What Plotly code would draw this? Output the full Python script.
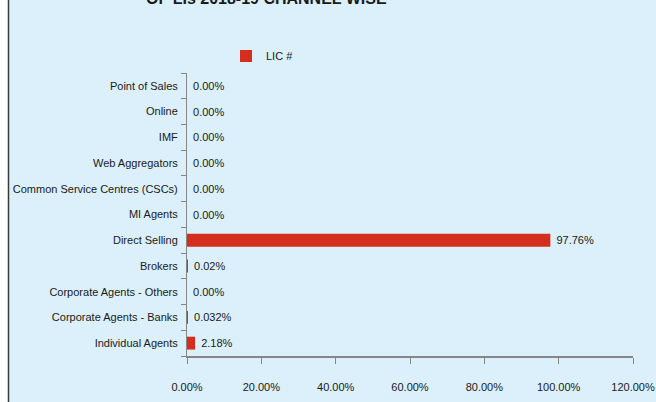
import plotly.graph_objects as go

categories = [
    "Individual Agents",
    "Corporate Agents - Banks",
    "Corporate Agents - Others",
    "Brokers",
    "Direct Selling",
    "MI Agents",
    "Common Service Centres (CSCs)",
    "Web Aggregators",
    "IMF",
    "Online",
    "Point of Sales",
]
values = [2.18, 0.032, 0.00, 0.02, 97.76, 0.00, 0.00, 0.00, 0.00, 0.00, 0.00]
value_labels = ["2.18%", "0.032%", "0.00%", "0.02%", "97.76%", "0.00%",
                "0.00%", "0.00%", "0.00%", "0.00%", "0.00%"]
x_ticks = [0, 20, 40, 60, 80, 100, 120]
x_tick_labels = ["0.00%", "20.00%", "40.00%", "60.00%", "80.00%", "100.00%", "120.00%"]
series_name = "LIC #"
title_text = "OF LIs 2018-19 CHANNEL WISE"

FONT = "Liberation Sans, Arial, sans-serif"
FS = 11
BG = "#DBF0FB"
RED = "#D42E1F"
AXIS = "#868686"
TXT = "#1a1a1a"

L, R, T, B = 187, 23, 73, 46
PW = 656 - L - R
PH = 402 - T - B


def px_x(p):
    return (p - L) / PW


def px_y(p):
    return 1 + (T - p) / PH


fig = go.Figure()
fig.add_trace(go.Bar(
    y=categories,
    x=values,
    orientation="h",
    name=series_name,
    marker=dict(color=RED, line=dict(width=0)),
    text=[" " + t for t in value_labels],
    textposition="outside",
    constraintext="none",
    cliponaxis=False,
    textfont=dict(family=FONT, size=FS, color=TXT),
    showlegend=True,
))

fig.update_layout(
    width=656,
    height=402,
    margin=dict(l=L, r=R, t=T, b=B, autoexpand=False),
    paper_bgcolor=BG,
    plot_bgcolor=BG,
    bargap=0.5,
    font=dict(family=FONT, size=FS, color=TXT),
    showlegend=True,
    legend=dict(
        orientation="h",
        x=px_x(226), xanchor="left",
        y=px_y(56), yanchor="middle",
        bgcolor="rgba(0,0,0,0)",
        font=dict(family=FONT, size=FS, color=TXT),
        itemwidth=30,
    ),
    xaxis=dict(
        range=[0, 120],
        tickvals=x_ticks,
        ticktext=x_tick_labels,
        showgrid=False,
        zeroline=False,
        showline=True,
        linecolor=AXIS,
        linewidth=1.5,
        ticks="outside",
        ticklen=6,
        tickcolor=AXIS,
        tickwidth=1,
        ticklabelstandoff=14,
        tickfont=dict(family=FONT, size=FS, color=TXT),
        automargin=False,
        fixedrange=True,
    ),
    yaxis=dict(
        type="category",
        categoryorder="array",
        categoryarray=categories,
        showgrid=False,
        zeroline=False,
        showline=True,
        linecolor=AXIS,
        linewidth=1,
        ticks="outside",
        tickson="boundaries",
        ticklen=5,
        tickcolor=AXIS,
        ticklabelstandoff=6,
        tickfont=dict(family=FONT, size=FS, color=TXT),
        automargin=False,
        fixedrange=True,
    ),
    shapes=[
        dict(type="rect", xref="paper", yref="paper",
             x0=px_x(-20), x1=px_x(8), y0=px_y(420), y1=px_y(-20),
             fillcolor="white", line=dict(width=0), layer="below"),
        dict(type="line", xref="paper", yref="paper",
             x0=px_x(8.5), x1=px_x(8.5), y0=px_y(420), y1=px_y(-20),
             line=dict(color="#3a3a3a", width=1.5)),
    ],
    annotations=[
        dict(text="<b>" + title_text + "</b>", xref="paper", yref="paper",
             x=px_x(266), y=px_y(-1), xanchor="center", yanchor="middle",
             showarrow=False,
             font=dict(family=FONT, size=16, color=TXT)),
    ],
)

fig.write_html(
    "out.html",
    config={"displayModeBar": False},
    post_script="document.body.style.margin='0';document.body.style.overflow='hidden';",
)
